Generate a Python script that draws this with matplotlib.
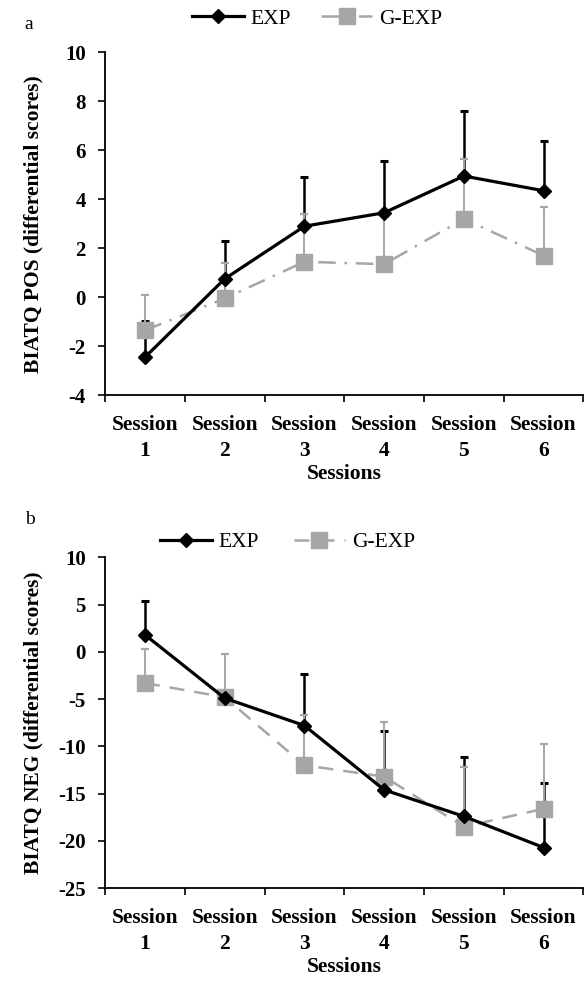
import matplotlib.pyplot as plt
import numpy as np

plt.rcParams['font.family'] = ['Liberation Serif', 'DejaVu Serif']
plt.rcParams['axes.unicode_minus'] = False

sessions = ['Session\n1', 'Session\n2', 'Session\n3', 'Session\n4', 'Session\n5', 'Session\n6']

# panel a: BIATQ POS
pos_exp = [-2.45, 0.75, 2.9, 3.45, 4.95, 4.35]
pos_exp_err = [1.5, 1.55, 2.0, 2.1, 2.65, 2.05]
pos_gexp = [-1.35, -0.05, 1.45, 1.35, 3.2, 1.7]
pos_gexp_err = [1.45, 1.45, 1.95, 2.05, 2.45, 2.0]

# panel b: BIATQ NEG
neg_exp = [1.8, -4.9, -7.8, -14.6, -17.4, -20.7]
neg_exp_err = [3.6, 0.0, 5.4, 6.2, 6.3, 6.8]
neg_gexp = [-3.3, -4.8, -12.0, -13.2, -18.5, -16.6]
neg_gexp_err = [3.6, 4.6, 5.3, 5.8, 6.3, 6.8]

GREY = '#a6a6a6'


def drawPanel(ax, exp, exp_err, gexp, gexp_err, ylim, yticks, ylabel, gstyle):
    x = np.arange(1, len(sessions) + 1)
    # EXP error bars sit under the grey series, EXP line on top
    ax.errorbar(x, exp, yerr=[np.zeros(len(x)), exp_err], fmt='none',
                ecolor='black', elinewidth=1.8, capsize=3, capthick=2.2, zorder=1)
    ax.errorbar(x, gexp, yerr=[np.zeros(len(x)), gexp_err], fmt='none',
                ecolor=GREY, elinewidth=1.4, capsize=3, capthick=1.6, zorder=2)
    lg, = ax.plot(x, gexp, color=GREY, lw=1.8, linestyle=gstyle, marker='s',
                  ms=11, mec=GREY, mfc=GREY, zorder=3, label='G-EXP')
    le, = ax.plot(x, exp, color='black', lw=2.3, marker='D', ms=7.5,
                  zorder=4, label='EXP')
    ax.set_xlim(0.5, len(sessions) + 0.5)
    ax.set_ylim(*ylim)
    ax.set_yticks(yticks)
    ax.set_xticks(np.arange(0.5, len(sessions) + 1.0, 1.0))
    ax.set_xticklabels([])
    ax.set_xticks(x, minor=True)
    ax.set_xticklabels(sessions, minor=True, fontweight='bold', fontsize=15.5,
                       linespacing=1.45)
    ax.tick_params(axis='x', which='minor', length=0, pad=14)
    ax.tick_params(axis='x', which='major', direction='out', length=5, width=1.2)
    ax.tick_params(axis='y', direction='out', length=5, width=1.2, labelsize=15, pad=9)
    for t in ax.get_yticklabels():
        t.set_fontweight('bold')
    for s in ['top', 'right']:
        ax.spines[s].set_visible(False)
    for s in ['left', 'bottom']:
        ax.spines[s].set_linewidth(1.3)
    ax.set_ylabel(ylabel, fontweight='bold', fontsize=15.5, labelpad=10)
    ax.yaxis.set_label_coords(-0.128, 0.5)
    ax.set_xlabel('Sessions', fontweight='bold', fontsize=15.5, labelpad=2)
    return le, lg


fig = plt.figure(figsize=(5.87, 9.88), dpi=100)

ax1 = fig.add_axes([0.179, 0.600, 0.815, 0.347])
le, lg = drawPanel(ax1, pos_exp, pos_exp_err, pos_gexp, pos_gexp_err,
                   (-4, 10), range(-4, 11, 2), 'BIATQ POS (differential scores)',
                   (0, (7, 3.5, 1, 3.5)))
fig.legend([le, lg], ['EXP', 'G-EXP'], loc='center', bbox_to_anchor=(0.54, 0.981),
           ncol=2, frameon=False, fontsize=15.5, handlelength=2.4, handletextpad=0.3,
           columnspacing=1.4)
fig.text(0.042, 0.975, 'a', fontsize=14, ha='left', va='center')

ax2 = fig.add_axes([0.179, 0.101, 0.815, 0.335])
le, lg = drawPanel(ax2, neg_exp, neg_exp_err, neg_gexp, neg_gexp_err,
                   (-25, 10), range(-25, 11, 5), 'BIATQ NEG (differential scores)',
                   (0, (6, 4)))
fig.legend([le, lg], ['EXP', 'G-EXP'], loc='center', bbox_to_anchor=(0.49, 0.451),
           ncol=2, frameon=False, fontsize=15.5, handlelength=2.4, handletextpad=0.3,
           columnspacing=1.6)
fig.text(0.042, 0.474, 'b', fontsize=14, ha='left', va='center')

fig.savefig('out.png', dpi=100)
